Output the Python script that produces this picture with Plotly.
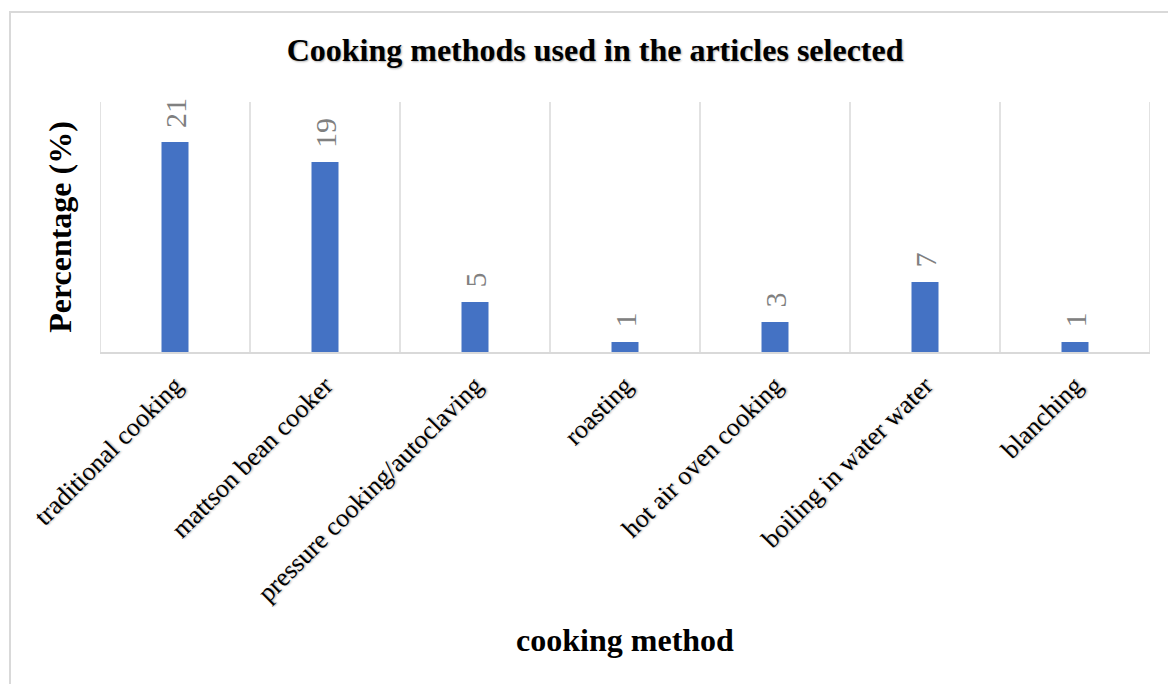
import plotly.graph_objects as go

categories = ["traditional cooking", "mattson bean cooker", "pressure cooking/autoclaving",
              "roasting", "hot air oven cooking", "boiling in water water", "blanching"]
values = [21, 19, 5, 1, 3, 7, 1]

title_text = "Cooking methods used in the articles selected"
x_title = "cooking method"
y_title = "Percentage (%)"

serif = "Liberation Serif"
shadow = "1px 1px 2px #b0b0b0"

fig = go.Figure()
fig.add_trace(go.Bar(
    x=categories, y=values,
    marker=dict(color="#4472C4", line=dict(width=0)),
    width=0.18,
    hoverinfo="x+y",
))

# data labels, rotated, above each bar
for c, v in zip(categories, values):
    fig.add_annotation(x=c, y=v, xref="x", yref="y", text=str(v),
                       showarrow=False, textangle=-90,
                       yanchor="bottom", xanchor="center", yshift=12,
                       font=dict(family=serif, size=30, color="#808080"))

fig.update_layout(
    width=1168, height=684,
    margin=dict(l=100, r=18, t=102, b=332),
    paper_bgcolor="white", plot_bgcolor="white",
    showlegend=False,
    font=dict(family=serif),
    title=dict(text="<b>" + title_text + "</b>", x=0.5095, xanchor="center",
               y=1 - 50 / 684, yanchor="middle",
               font=dict(family=serif, size=32, color="black", shadow=shadow)),
)
fig.update_xaxes(
    tickangle=-45,
    tickfont=dict(family=serif, size=26, color="black", shadow=shadow),
    ticklabelstandoff=6,
    showgrid=False,
    showline=True, linecolor="#d9d9d9", linewidth=2,
    ticks="",
    title=dict(text="<b>" + x_title + "</b>",
               font=dict(family=serif, size=32, color="black"),
               standoff=22),
    range=[-0.5, len(categories) - 0.5],
)
fig.update_yaxes(
    range=[0, 25],
    showticklabels=False, showgrid=False, zeroline=False, showline=False,
    title=dict(text="<b>" + y_title + "</b>",
               font=dict(family=serif, size=32, color="black"),
               standoff=17),
)

# vertical category boundary gridlines
for i in range(len(categories) + 1):
    fig.add_shape(type="line", xref="x", yref="paper",
                  x0=i - 0.5, x1=i - 0.5, y0=0, y1=1,
                  line=dict(color="#d9d9d9", width=1.5), layer="below")

# chart border (top and left visible)
fig.add_shape(type="rect", xref="paper", yref="paper",
              x0=(10 - 100) / 1050, x1=(1175 - 100) / 1050,
              y0=(352 - 700) / 250, y1=(352 - 12) / 250,
              line=dict(color="#d9d9d9", width=2), layer="below")

fig.write_html("out.html")
